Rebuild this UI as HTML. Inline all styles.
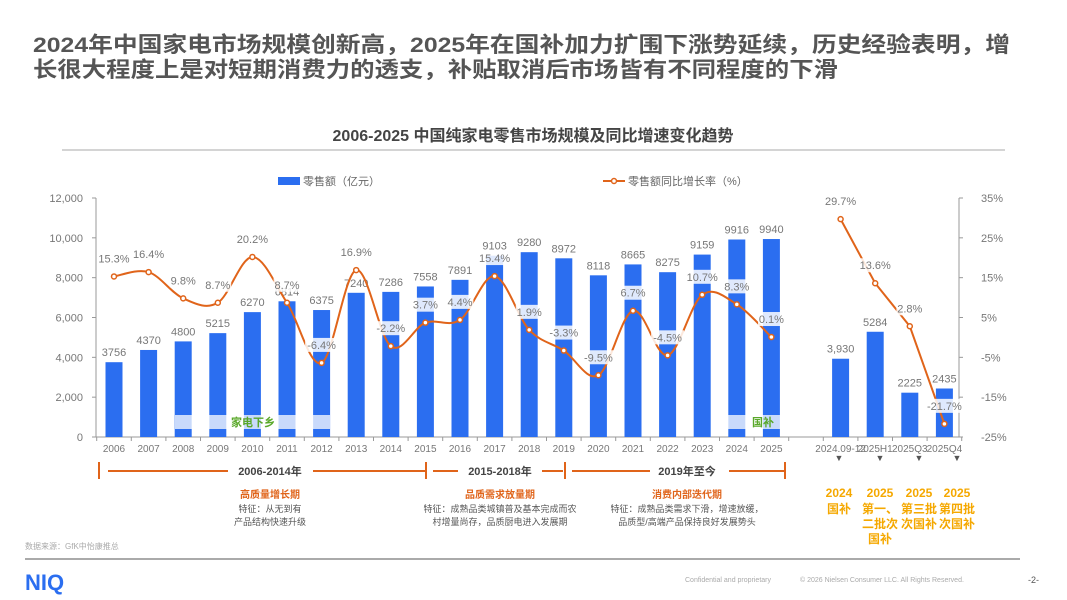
<!DOCTYPE html>
<html><head><meta charset="utf-8"><style>
html,body{margin:0;padding:0;background:#fff;width:1067px;height:600px;overflow:hidden}
svg{display:block;font-family:"Liberation Sans","Noto Sans CJK SC",sans-serif}
</style></head><body>
<svg id="s" width="1067" height="600" viewBox="0 0 1067 600">
<text x="33" y="52" font-size="21.5" font-weight="bold" fill="#555" textLength="977" lengthAdjust="spacingAndGlyphs">2024年中国家电市场规模创新高，2025年在国补加力扩围下涨势延续，历史经验表明，增</text>
<text x="33" y="77" font-size="21.5" font-weight="bold" fill="#555" textLength="805" lengthAdjust="spacingAndGlyphs">长很大程度上是对短期消费力的透支，补贴取消后市场皆有不同程度的下滑</text>
<text x="533" y="141" font-size="16" font-weight="bold" fill="#444" text-anchor="middle">2006-2025 中国纯家电零售市场规模及同比增速变化趋势</text>
<line x1="62" y1="150" x2="1005" y2="150" stroke="#aaa" stroke-width="1"/>
<g>
<rect x="278" y="177" width="22" height="8" fill="#2b6ef0"/>
<text x="303" y="185" font-size="11" fill="#666">零售额（亿元）</text>
<line x1="603" y1="181" x2="625" y2="181" stroke="#e0641a" stroke-width="2"/>
<circle cx="614" cy="181" r="2.5" fill="#fff" stroke="#e0641a" stroke-width="1.5"/>
<text x="628" y="185" font-size="11" fill="#666">零售额同比增长率（%）</text>
</g>
<g id="chart"></g>
<g stroke="#e0641a" stroke-width="2">
<line x1="99" y1="462" x2="99" y2="479"/><line x1="108" y1="471" x2="228" y2="471"/><line x1="313" y1="471" x2="425" y2="471"/><line x1="426" y1="462" x2="426" y2="479"/>
<line x1="433" y1="471" x2="458" y2="471"/><line x1="542" y1="471" x2="563" y2="471"/><line x1="565" y1="462" x2="565" y2="479"/>
<line x1="572" y1="471" x2="650" y2="471"/><line x1="729" y1="471" x2="784" y2="471"/><line x1="785" y1="462" x2="785" y2="479"/>
</g>
<g font-size="10" text-anchor="middle">
<text x="270" y="475" font-weight="bold" fill="#444" font-size="11">2006-2014年</text>
<text x="500" y="475" font-weight="bold" fill="#444" font-size="11">2015-2018年</text>
<text x="687" y="475" font-weight="bold" fill="#444" font-size="11">2019年至今</text>
<text x="270" y="498" font-weight="bold" fill="#e0641a">高质量增长期</text>
<text x="270" y="512" fill="#555" font-size="9">特征：从无到有</text>
<text x="270" y="525" fill="#555" font-size="9">产品结构快速升级</text>
<text x="500" y="498" font-weight="bold" fill="#e0641a">品质需求放量期</text>
<text x="500" y="512" fill="#555" font-size="9">特征：成熟品类城镇普及基本完成而农</text>
<text x="500" y="525" fill="#555" font-size="9">村增量尚存，品质厨电进入发展期</text>
<text x="687" y="498" font-weight="bold" fill="#e0641a">消费内部迭代期</text>
<text x="687" y="512" fill="#555" font-size="9">特征：成熟品类需求下滑，增速放缓，</text>
<text x="687" y="525" fill="#555" font-size="9">品质型/高端产品保持良好发展势头</text>
</g>
<g font-size="12" font-weight="bold" fill="#f5a800" text-anchor="middle">
<text x="839" y="497">2024</text><text x="839" y="513">国补</text>
<text x="880" y="497">2025</text><text x="880" y="513">第一、</text><text x="880" y="528">二批次</text><text x="880" y="543">国补</text>
<text x="919" y="497">2025</text><text x="919" y="513">第三批</text><text x="919" y="528">次国补</text>
<text x="957" y="497">2025</text><text x="957" y="513">第四批</text><text x="957" y="528">次国补</text>
<g fill="#555" font-size="9" font-weight="normal"><text x="839" y="461">▼</text><text x="880" y="461">▼</text><text x="919" y="461">▼</text><text x="957" y="461">▼</text></g>
</g>
<text x="25" y="549" font-size="8" fill="#aaa">数据来源：GfK中怡康推总</text>
<line x1="25" y1="559" x2="1020" y2="559" stroke="#555" stroke-width="1"/>
<text x="25" y="590" font-size="22" font-weight="bold" fill="#2b6ef0">NIQ</text>
<text x="685" y="582" font-size="7" fill="#aaa">Confidential and proprietary</text>
<text x="800" y="582" font-size="7" fill="#aaa">© 2026 Nielsen Consumer LLC. All Rights Reserved.</text>
<text x="1028" y="583" font-size="9" fill="#555">-2-</text>
</svg>
<script>
const categories=["2006","2007","2008","2009","2010","2011","2012","2013","2014","2015","2016","2017","2018","2019","2020","2021","2022","2023","2024","2025","","2024.09-12","2025H1","2025Q3","2025Q4"];
const sales=[3756,4370,4800,5215,6270,6814,6375,7240,7286,7558,7891,9103,9280,8972,8118,8665,8275,9159,9916,9940,null,3930,5284,2225,2435];
const salesLabels=["3756","4370","4800","5215","6270","6814","6375","7240","7286","7558","7891","9103","9280","8972","8118","8665","8275","9159","9916","9940","","3,930","5284","2225","2435"];
const growth=[15.3,16.4,9.8,8.7,20.2,8.7,-6.4,16.9,-2.2,3.7,4.4,15.4,1.9,-3.3,-9.5,6.7,-4.5,10.7,8.3,0.1,null,29.7,13.6,2.8,-21.7];
const leftTicks=[0,2000,4000,6000,8000,10000,12000];
const rightTicks=[-25,-15,-5,5,15,25,35];
const NS="http://www.w3.org/2000/svg";
const g=document.getElementById('chart');
const X=i=>114+i*34.6, YL=v=>437-v/12000*239, YR=v=>437-(v+25)/60*239;
function el(t,a,p){const e=document.createElementNS(NS,t);for(const k in a)e.setAttribute(k,a[k]);(p||g).appendChild(e);return e;}
function txt(x,y,s,a){const e=el('text',Object.assign({x:x,y:y},a));e.textContent=s;return e;}
const ax=el('line',{x1:96,y1:198,x2:96,y2:437,stroke:'#999'});


const ar=el('line',{x1:959,y1:198,x2:959,y2:437,stroke:'#999'});


const bx=el('line',{x1:96,y1:437,x2:959,y2:437,stroke:'#999'});


leftTicks.forEach(v=>{el('line',{x1:92,y1:YL(v),x2:96,y2:YL(v),stroke:'#999'});
const t=txt(83,YL(v)+4,v.toLocaleString('en-US'),{'font-size':11,fill:'#777','text-anchor':'end'});

});
rightTicks.forEach(v=>{el('line',{x1:959,y1:YR(v),x2:963,y2:YR(v),stroke:'#999'});
const t=txt(981,YR(v)+4,v+'%',{'font-size':11,fill:'#777'});

});
for(let i=0;i<=categories.length;i++)el('line',{x1:X(i)-17.3,y1:437,x2:X(i)-17.3,y2:441,stroke:'#999'});
categories.forEach((c,i)=>{if(!c)return;const t=txt(X(i),452,c,{'font-size':10,fill:'#777','text-anchor':'middle'});

});
sales.forEach((v,i)=>{if(v==null)return;
const b=el('rect',{x:X(i)-8.5,y:YL(v),width:17,height:437-YL(v),fill:'#2b6ef0'});


const t=txt(X(i),YL(v)-6,salesLabels[i],{'font-size':11,fill:'#777','text-anchor':'middle'});

});
// banner boxes (on top of bars)
const b1=el('rect',{x:175,y:415,width:155,height:14,fill:'#fff','fill-opacity':0.75});


txt(253,426,'家电下乡',{'font-size':11,'font-weight':'bold',fill:'#5aa82a','text-anchor':'middle'});
const b2=el('rect',{x:725,y:415,width:65,height:14,fill:'#fff','fill-opacity':0.75});


txt(763,426,'国补',{'font-size':11,'font-weight':'bold',fill:'#5aa82a','text-anchor':'middle'});
function smooth(pts){let d='M'+pts[0][0]+','+pts[0][1];for(let i=0;i<pts.length-1;i++){const p0=pts[i-1]||pts[i],p1=pts[i],p2=pts[i+1],p3=pts[i+2]||p2;
d+=' C'+(p1[0]+(p2[0]-p0[0])/6)+','+(p1[1]+(p2[1]-p0[1])/6)+' '+(p2[0]-(p3[0]-p1[0])/6)+','+(p2[1]-(p3[1]-p1[1])/6)+' '+p2[0]+','+p2[1];}return d;}
let segs=[[]];growth.forEach((v,i)=>{if(v==null){segs.push([]);return;}segs[segs.length-1].push([X(i),YR(v)]);});
segs.forEach((s,k)=>{const p=el('path',{d:k==0?smooth(s):'M'+s.map(q=>q.join(',')).join(' L'),fill:'none',stroke:'#e0641a','stroke-width':2});

});
growth.forEach((v,i)=>{if(v==null)return;
const c=el('circle',{cx:X(i),cy:YR(v),r:2.5,fill:'#fff',stroke:'#e0641a','stroke-width':1.5});


const s=v.toFixed(1)+'%';const w=s.length*6.2+2;
el('rect',{x:X(i)-w/2,y:YR(v)-25,width:w,height:14,fill:'#fff','fill-opacity':0.85});
const t=txt(X(i),YR(v)-14,s,{'font-size':11,fill:'#777','text-anchor':'middle'});

});
</script>
</body></html>
